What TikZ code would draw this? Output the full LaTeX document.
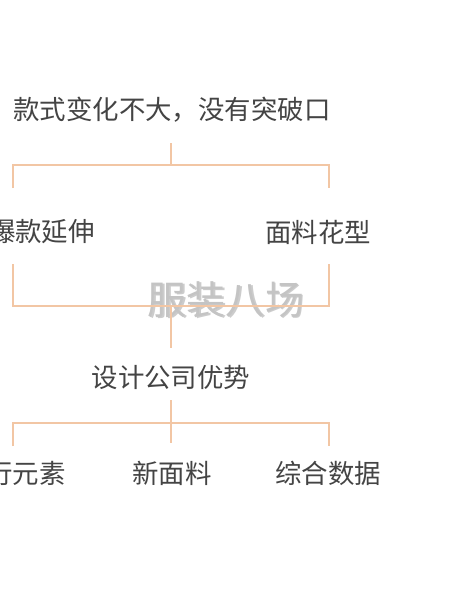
\documentclass[tikz,border=0pt]{standalone}
\usepackage{fontspec}
\setmainfont{Noto Sans CJK SC}
\definecolor{linec}{HTML}{F2C6A4}
\definecolor{txt}{HTML}{444444}
\definecolor{wm}{HTML}{C4C4C4}
\begin{document}
\begin{tikzpicture}[x=0.025cm,y=-0.025cm,
  lbl/.style={inner sep=0pt,text=txt,font=\fontsize{18.8pt}{20pt}\selectfont},
  conn/.style={draw=linec,line width=1pt}]
\useasboundingbox (0,0) rectangle (450,600);
\fill[white] (0,0) rectangle (450,600);
% watermark
\node[inner sep=0pt,text=black!20,font=\fontsize{27.8pt}{30pt}\selectfont] (wms) at (227.2,301.2) {服装八场};
\node[inner sep=0pt,text=wm,font=\fontsize{27.8pt}{30pt}\selectfont] (wmk) at (226,300) {服装八场};
% texts
\node[lbl] (t) at (172,110) {款式变化不大，没有突破口};
\node[lbl] (a) at (42,232) {爆款延伸};
\node[lbl] (b) at (318,232) {面料花型};
\node[lbl] (c) at (171,377) {设计公司优势};
\node[lbl] (d) at (13,473) {流行元素};
\node[lbl] (e) at (172,473) {新面料};
\node[lbl] (f) at (328,473) {综合数据};
% coordinates
\coordinate (t1) at (171,143);
\coordinate (t2) at (171,165);
\coordinate (tl) at (13,165);
\coordinate (tr) at (329,165);
\coordinate (tla) at (13,188);
\coordinate (tra) at (329,188);
\coordinate (al) at (13,264);
\coordinate (br) at (329,264);
\coordinate (ml) at (13,306);
\coordinate (mr) at (329,306);
\coordinate (mm) at (171,306);
\coordinate (mc) at (171,348);
\coordinate (c1) at (171,400);
\coordinate (c2) at (171,443);
\coordinate (bl) at (13,423);
\coordinate (bR) at (329,423);
\coordinate (bld) at (13,446);
\coordinate (brd) at (329,446);
% connectors
\draw[conn] (t1) -- (t2);
\draw[conn] (tla) -- (tl) -- (tr) -- (tra);
\draw[conn] (al) -- (ml) -- (mr) -- (br);
\draw[conn] (mm) -- (mc);
\draw[conn] (c1) -- (c2);
\draw[conn] (bld) -- (bl) -- (bR) -- (brd);
\end{tikzpicture}
\end{document}
